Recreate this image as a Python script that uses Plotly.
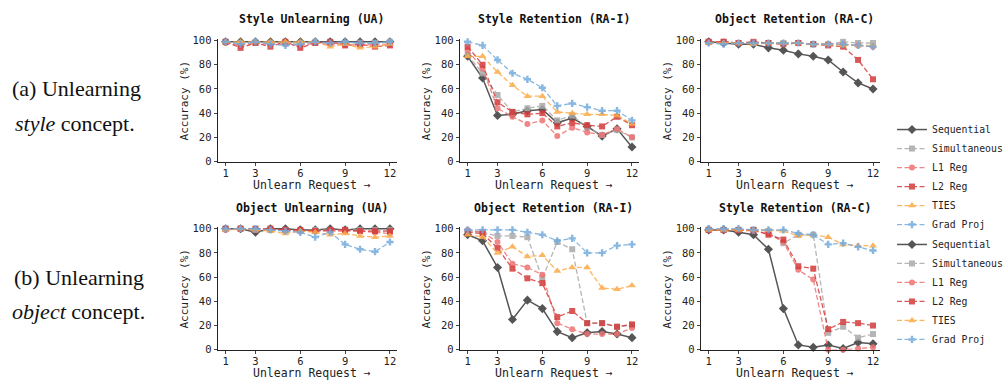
import plotly.graph_objects as go

steps = list(range(1, 13))
methods = ["Sequential", "Simultaneous", "L1 Reg", "L2 Reg", "TIES", "Grad Proj"]

# (a) Unlearning style concept
style_ua = {
    "Sequential":   [99, 99, 99, 99, 99, 99, 99, 99, 99, 99, 99, 99],
    "Simultaneous": [99, 98, 99, 98, 98, 98, 99, 98, 98, 98, 98, 99],
    "L1 Reg":       [98, 96, 98, 97, 97, 96, 98, 97, 97, 96, 97, 97],
    "L2 Reg":       [99, 94, 98, 95, 99, 94, 98, 99, 96, 97, 95, 96],
    "TIES":         [99, 99, 99, 99, 99, 99, 99, 95, 97, 94, 95, 97],
    "Grad Proj":    [99, 97, 99, 97, 96, 97, 99, 98, 99, 98, 98, 99],
}
style_ra_i = {
    "Sequential":   [87, 69, 38, 39, 42, 43, 32, 36, 29, 21, 27, 12],
    "Simultaneous": [88, 73, 55, 41, 44, 46, 34, 38, 28, 22, 26, 20],
    "L1 Reg":       [92, 77, 44, 37, 31, 34, 21, 28, 24, 22, 27, 20],
    "L2 Reg":       [95, 80, 49, 41, 39, 40, 29, 32, 30, 29, 37, 30],
    "TIES":         [87, 87, 74, 63, 54, 54, 41, 40, 39, 39, 38, 31],
    "Grad Proj":    [99, 96, 84, 73, 68, 61, 46, 48, 45, 42, 42, 34],
}
style_ra_c = {
    "Sequential":   [99, 98, 97, 97, 94, 92, 89, 87, 84, 74, 65, 60],
    "Simultaneous": [99, 99, 98, 98, 98, 98, 98, 97, 97, 99, 98, 98],
    "L1 Reg":       [99, 99, 98, 98, 98, 97, 98, 97, 97, 97, 96, 95],
    "L2 Reg":       [99, 99, 98, 99, 98, 97, 98, 97, 96, 95, 84, 68],
    "TIES":         [98, 98, 98, 97, 98, 98, 98, 97, 97, 96, 96, 96],
    "Grad Proj":    [98, 97, 98, 98, 98, 98, 98, 97, 97, 97, 96, 95],
}
# (b) Unlearning object concept
object_ua = {
    "Sequential":   [100, 100, 97, 100, 100, 99, 99, 100, 99, 100, 100, 100],
    "Simultaneous": [100, 100, 99, 99, 99, 98, 99, 99, 99, 99, 99, 99],
    "L1 Reg":       [99, 100, 99, 99, 99, 98, 98, 98, 98, 98, 97, 96],
    "L2 Reg":       [100, 100, 100, 100, 99, 99, 98, 99, 99, 98, 98, 98],
    "TIES":         [99, 100, 99, 98, 96, 98, 97, 95, 96, 94, 93, 94],
    "Grad Proj":    [100, 100, 100, 99, 98, 97, 93, 97, 87, 83, 81, 89],
}
object_ra_i = {
    "Sequential":   [95, 90, 68, 25, 41, 34, 15, 10, 14, 15, 13, 10],
    "Simultaneous": [98, 97, 94, 94, 93, 59, 89, 83, 22, 22, 19, 20],
    "L1 Reg":       [99, 97, 89, 71, 68, 62, 22, 17, 13, 13, 13, 18],
    "L2 Reg":       [97, 96, 84, 67, 59, 55, 27, 32, 22, 22, 19, 21],
    "TIES":         [95, 93, 80, 85, 77, 78, 65, 68, 68, 51, 50, 53],
    "Grad Proj":    [99, 99, 99, 99, 97, 95, 90, 92, 80, 80, 86, 87],
}
object_ra_c = {
    "Sequential":   [99, 99, 97, 95, 83, 34, 4, 2, 4, 1, 6, 5],
    "Simultaneous": [99, 99, 99, 99, 98, 88, 95, 95, 14, 19, 10, 13],
    "L1 Reg":       [99, 99, 99, 98, 96, 89, 66, 58, 0, 0, 1, 2],
    "L2 Reg":       [99, 99, 99, 99, 95, 91, 69, 67, 17, 23, 22, 20],
    "TIES":         [99, 99, 99, 99, 99, 98, 94, 95, 93, 87, 86, 86],
    "Grad Proj":    [100, 100, 100, 99, 99, 99, 96, 95, 87, 88, 85, 82],
}

titles = [["Style Unlearning (UA)", "Style Retention (RA-I)", "Object Retention (RA-C)"],
          ["Object Unlearning (UA)", "Object Retention (RA-I)", "Style Retention (RA-C)"]]
panels = [[style_ua, style_ra_i, style_ra_c], [object_ua, object_ra_i, object_ra_c]]
xticks = [1, 3, 6, 9, 12]
yticks = [0, 20, 40, 60, 80, 100]

styles = {
    "Sequential":   dict(color="#555555", symbol="diamond", dash="solid", width=1.5, size=7, opacity=1.0),
    "Simultaneous": dict(color="#a9a9a9", symbol="square", dash="5px,2.5px", width=1.3, size=6, opacity=0.85),
    "L1 Reg":       dict(color="#ee7272", symbol="circle", dash="5px,2.5px", width=1.3, size=6, opacity=0.85),
    "L2 Reg":       dict(color="#d43a3a", symbol="square", dash="5px,2.5px", width=1.3, size=6, opacity=0.85),
    "TIES":         dict(color="#fbaa48", symbol="triangle-up", dash="5px,2.5px", width=1.3, size=7, opacity=0.85),
    "Grad Proj":    dict(color="#74abdc", symbol="cross", dash="5px,2.5px", width=1.3, size=6, opacity=0.85),
}

W, H = 1008, 385
col_px = [(219, 399), (462, 642), (704, 884)]
row_px = [(35.7, 161.7), (228.8, 355.0)]  # top (y=101.5), bottom (y=0)

mono = "DejaVu Sans Mono"
fig = go.Figure()
layout = {}
ann = []
for r in range(2):
    for c in range(3):
        idx = r * 3 + c + 1
        xa = "xaxis" if idx == 1 else f"xaxis{idx}"
        ya = "yaxis" if idx == 1 else f"yaxis{idx}"
        xr = "x" if idx == 1 else f"x{idx}"
        yr = "y" if idx == 1 else f"y{idx}"
        x0, x1 = col_px[c]
        y0, y1 = row_px[r]
        layout[xa] = dict(domain=[x0 / W, x1 / W], range=[0.5, 12.5], anchor=yr,
                          tickvals=xticks, ticks="outside", ticklen=3.5, tickwidth=1,
                          ticklabelstandoff=-2,
                          showline=True, linecolor="#222", linewidth=1, showgrid=False,
                          zeroline=False, tickfont=dict(family=mono, size=10.5, color="#222"))
        layout[ya] = dict(domain=[1 - y1 / H, 1 - y0 / H], range=[0, 101.5], anchor=xr,
                          tickvals=yticks, ticks="outside", ticklen=3.5, tickwidth=1,
                          showline=True, linecolor="#222", linewidth=1, showgrid=False,
                          zeroline=False, tickfont=dict(family=mono, size=10.5, color="#222"))
        data = panels[r][c]
        for m in methods:
            s = styles[m]
            fig.add_trace(go.Scatter(
                x=steps, y=data[m], mode="lines+markers", name=m,
                xaxis=xr, yaxis=yr, opacity=s["opacity"],
                line=dict(color=s["color"], dash=s["dash"], width=s["width"]),
                marker=dict(symbol=s["symbol"], size=s["size"], color=s["color"]),
                legend="legend" if r == 0 else "legend2",
                showlegend=(c == 2), cliponaxis=False,
            ))
        ann.append(dict(text=f"<b>{titles[r][c]}</b>", x=(x0 + x1) / 2 / W + 0.004,
                        y=1 - (15.7 if r == 0 else 209) / H, xref="paper", yref="paper",
                        showarrow=False, font=dict(family=mono, size=11.5, color="#111"),
                        xanchor="center", yanchor="middle"))
        ann.append(dict(text="Unlearn Request →", x=(x0 + x1) / 2 / W + 0.004,
                        y=1 - (185.5 if r == 0 else 378.5) / H, xref="paper", yref="paper",
                        showarrow=False, font=dict(family=mono, size=11.5, color="#222"),
                        xanchor="center", yanchor="middle"))
        ann.append(dict(text="Accuracy (%)", x=(x0 - 34) / W,
                        y=1 - ((y0 + y1) / 2 + 1) / H, xref="paper", yref="paper",
                        showarrow=False, textangle=-90, font=dict(family=mono, size=11, color="#222"),
                        xanchor="center", yanchor="middle"))

serif = "Liberation Serif"
side = [("(a) Unlearning", 10, 87), ("<i>style</i> concept.", 13, 123),
        ("(b) Unlearning", 12, 281), ("<i>object</i> concept.", 10, 316)]
for t, x, y in side:
    ann.append(dict(text=t, x=x / W, y=1 - y / H, xref="paper", yref="paper",
                    showarrow=False, xanchor="left", yanchor="middle",
                    font=dict(family=serif, size=22, color="#111")))

leg_common = dict(font=dict(family=mono, size=9.8, color="#222"), bgcolor="rgba(0,0,0,0)",
                  xanchor="left", yanchor="top", itemwidth=30, tracegroupgap=0)
layout["legend"] = dict(x=896 / W, y=1 - 114 / H, **leg_common)
layout["legend2"] = dict(x=896 / W, y=1 - 232 / H, **leg_common)

fig.update_layout(width=W, height=H, margin=dict(l=0, r=0, t=0, b=0),
                  paper_bgcolor="white", plot_bgcolor="white", annotations=ann,
                  showlegend=True, **layout)
fig.write_html("out.html", config={"displayModeBar": False},
               post_script="document.body.style.margin='0';document.body.style.overflow='hidden';")
